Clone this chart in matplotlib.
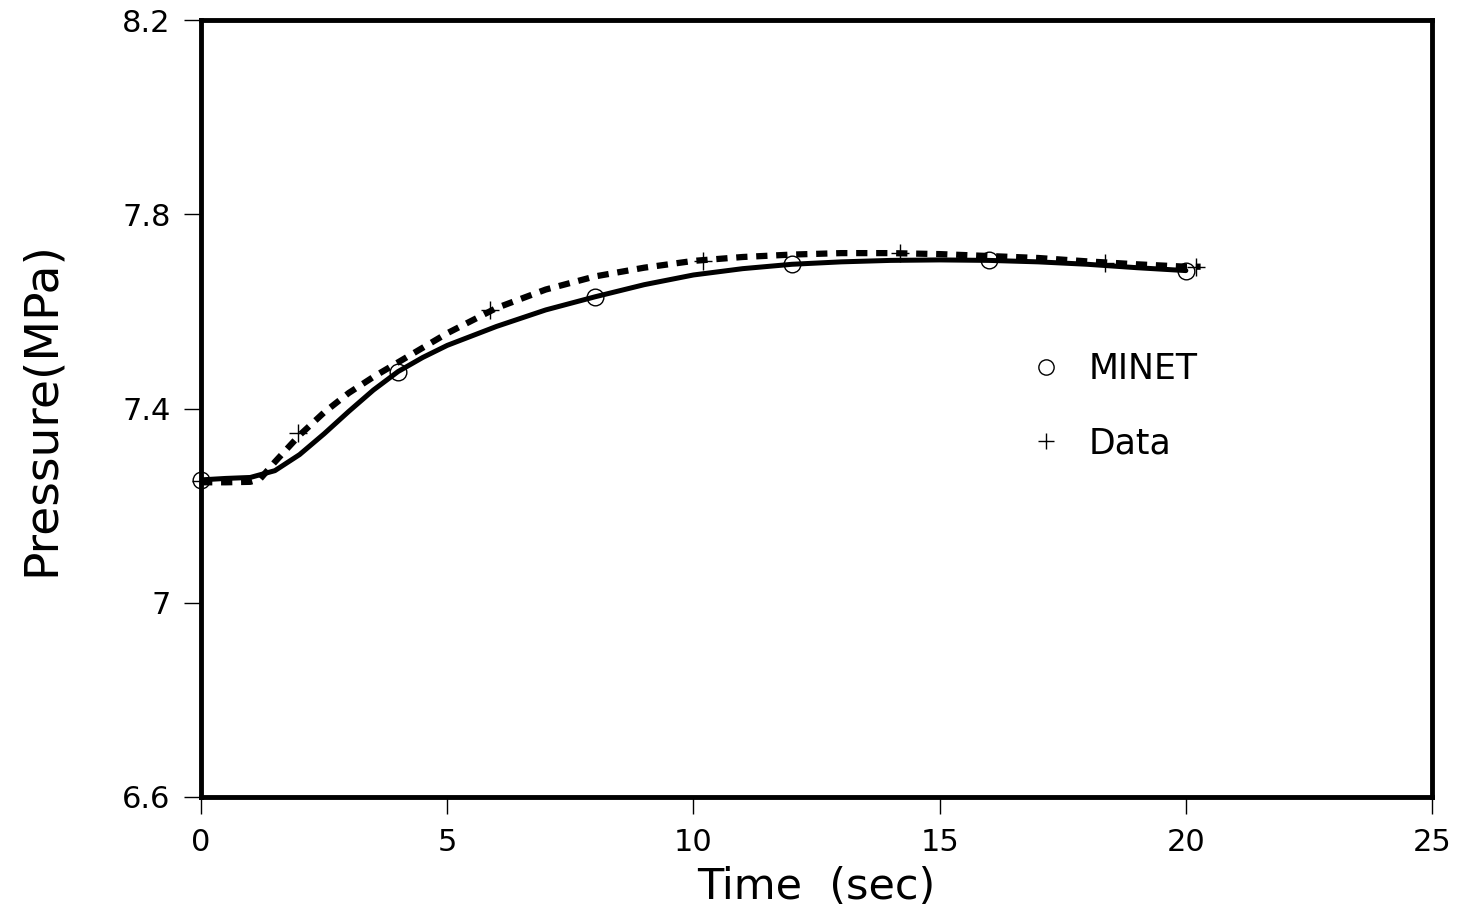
import numpy as np
import matplotlib
matplotlib.use("Agg")
import matplotlib.pyplot as plt
from matplotlib.lines import Line2D

# MINET calculation (solid line), circles every 4 s
minet_t = [0.0, 0.5, 1.0, 1.5, 2.0, 2.5, 3.0, 3.5, 4.0, 4.5, 5.0, 6.0, 7.0, 8.0,
           9.0, 10.0, 11.0, 12.0, 13.0, 14.0, 15.0, 16.0, 17.0, 18.0, 19.0, 20.0]
minet_p = [7.253, 7.256, 7.258, 7.272, 7.305, 7.348, 7.394, 7.438, 7.476, 7.505,
           7.530, 7.569, 7.603, 7.630, 7.655, 7.675, 7.688, 7.697, 7.702, 7.705,
           7.706, 7.705, 7.702, 7.697, 7.690, 7.684]
minet_mark_t = [0, 4, 8, 12, 16, 20]

# measured data (dashed line)
data_t = [0.0, 0.5, 1.0, 1.2, 1.5, 2.0, 2.5, 3.0, 3.5, 4.0, 5.0, 6.0, 7.0, 8.0,
          9.0, 10.0, 11.0, 12.0, 13.0, 14.0, 15.0, 16.0, 17.0, 18.0, 19.0, 20.0, 20.3]
data_p = [7.248, 7.248, 7.249, 7.255, 7.290, 7.345, 7.392, 7.432, 7.465, 7.495,
          7.555, 7.607, 7.645, 7.672, 7.690, 7.704, 7.712, 7.717, 7.720, 7.720,
          7.718, 7.714, 7.710, 7.703, 7.697, 7.692, 7.692]
data_mark_t = [0.0, 1.97, 5.87, 10.2, 14.2, 18.36, 20.2]
data_mark_p = [7.250, 7.349, 7.603, 7.704, 7.720, 7.700, 7.692]

xticks = [0, 5, 10, 15, 20, 25]
yticks = [6.6, 7.0, 7.4, 7.8, 8.2]
ytick_labels = ["6.6", "7", "7.4", "7.8", "8.2"]

fig = plt.figure(figsize=(14.58, 9.15), dpi=100)
ax = fig.add_axes([0.1379, 0.129, 0.8443, 0.8491])

ax.plot(minet_t, minet_p, color="black", lw=3.6, solid_capstyle="round")
ax.plot(data_t, data_p, color="black", lw=4.5, dashes=(1.8, 1.4))

mk_p = np.interp(minet_mark_t, minet_t, minet_p)
ax.plot(minet_mark_t, mk_p, ls="none", marker="o", ms=12, mfc="none",
        mec="black", mew=1.0, clip_on=False)
ax.plot(data_mark_t, data_mark_p, ls="none", marker="+", ms=13, mec="black",
        mew=1.0, clip_on=False)

ax.set_xlim(0, 25)
ax.set_ylim(6.6, 8.2)
ax.set_xticks(xticks)
ax.set_yticks(yticks)
ax.set_yticklabels(ytick_labels)
ax.tick_params(direction="out", length=12, width=1.0, labelsize=22, pad=10)
for side in ["left", "right", "top", "bottom"]:
    ax.spines[side].set_linewidth(3.5)

ax.set_xlabel("Time  (sec)", fontsize=31, labelpad=7)
ax.set_ylabel("Pressure(MPa)", fontsize=34, labelpad=42)

handles = [
    Line2D([], [], ls="none", marker="o", ms=11, mfc="none", mec="black", mew=1.0),
    Line2D([], [], ls="none", marker="+", ms=12, mec="black", mew=1.0),
]
ax.legend(handles, ["MINET", "Data"], loc="upper left",
          bbox_to_anchor=(0.6957, 0.630), bbox_transform=fig.transFigure,
          frameon=False, fontsize=25, handlelength=1.0, handletextpad=0.75,
          labelspacing=1.15, borderaxespad=0)

fig.savefig("out.png", dpi=100)
